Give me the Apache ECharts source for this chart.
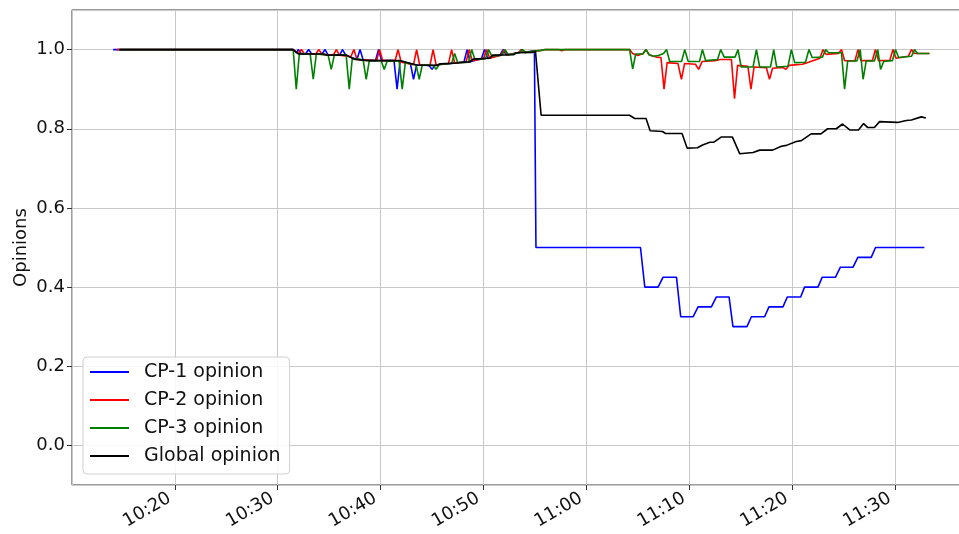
<!DOCTYPE html>
<html>
<head>
<meta charset="utf-8">
<script src="https://cdn.jsdelivr.net/npm/echarts@6/dist/echarts.min.js"></script>
<style>html,body{margin:0;padding:0;background:#fff;}#chart{width:959px;height:534px;}</style>
</head>
<body>
<div id="chart"></div>
<script>
// time = minutes after 10:00
const seriesNames = ['CP-1 opinion', 'CP-2 opinion', 'CP-3 opinion', 'Global opinion'];
const seriesColors = ['#0000ff', '#ff0000', '#008000', '#000000'];

const cp1Points = [
  [14.0,1.0],[31.5,1.0],[31.8,0.992],[32.0,1.0],[32.3,0.989],[32.7,0.989],[33.0,1.0],[33.3,0.989],
  [34.3,0.989],[34.6,1.0],[34.9,0.986],[36.0,0.986],[36.3,1.0],[36.6,0.986],[37.7,0.975],[38.0,1.0],
  [38.3,0.974],[39.5,0.972],[39.8,1.0],[40.1,0.972],[41.3,0.972],[41.6,0.90],[41.9,0.972],[42.9,0.964],
  [43.2,0.925],[43.5,0.961],[44.7,0.96],[45.0,0.95],[45.3,0.961],[48.1,0.968],[48.4,1.0],[48.7,0.969],
  [49.8,0.977],[50.1,1.0],[50.4,0.978],[51.6,0.986],[51.9,1.0],[52.2,0.987],[53.4,0.992],[53.7,1.0],
  [54.0,0.993],[54.95,0.997],[55.1,0.5],[65.26,0.5],[65.68,0.4],[66.97,0.4],[67.46,0.425],[68.76,0.425],
  [69.17,0.325],[70.37,0.325],[70.86,0.35],[72.15,0.35],[72.64,0.375],[73.87,0.375],[74.25,0.3],
  [75.61,0.3],[76.04,0.325],[77.33,0.325],[77.75,0.35],[79.11,0.35],[79.53,0.375],[80.83,0.375],
  [81.21,0.4],[82.51,0.4],[82.93,0.425],[84.22,0.425],[84.68,0.45],[85.91,0.45],[86.39,0.475],
  [87.69,0.475],[88.11,0.5],[92.86,0.5]
];

const cp2Points = [
  [14.35,1.0],[31.5,1.0],[32.0,0.99],[32.3,1.0],[32.6,0.989],[33.7,0.989],[34.0,1.0],[34.3,0.988],
  [35.4,0.986],[35.7,1.0],[36.0,0.986],[37.1,0.982],[37.4,1.0],[37.7,0.975],[39.6,0.972],[39.9,1.0],
  [40.2,0.972],[41.4,0.972],[41.7,1.0],[42.0,0.968],[43.2,0.962],[43.5,1.0],[43.8,0.961],[44.8,0.96],
  [45.1,1.0],[45.4,0.961],[46.6,0.965],[46.9,1.0],[47.2,0.966],[48.3,0.968],[48.6,1.0],[48.9,0.972],
  [50.0,0.977],[50.3,1.0],[50.6,0.978],[51.7,0.986],[52.0,1.0],[52.3,0.987],[53.4,0.992],[53.7,1.0],
  [54.0,0.993],[55.0,0.996],[55.6,0.998],[56.0,1.0],[57.3,1.0],[57.6,0.997],[57.9,1.0],[64.2,1.0],
  [64.5,0.99],[65.0,0.985],[65.5,0.99],[65.8,1.0],[66.1,0.987],[66.8,0.981],[67.25,0.98],[67.55,0.90],
  [67.85,0.967],[68.9,0.965],[69.24,0.925],[69.55,0.965],[70.6,0.963],[70.92,0.95],[71.25,0.97],
  [72.5,0.972],[73.0,0.975],[74.1,0.975],[74.4,0.876],[74.7,0.96],[75.7,0.958],[76.0,0.90],[76.3,0.956],
  [77.5,0.954],[77.8,0.925],[78.1,0.953],[79.1,0.955],[79.4,0.95],[79.7,0.96],[81.0,0.963],[81.6,0.968],
  [82.7,0.978],[83.0,1.0],[83.3,0.988],[84.5,0.99],[84.8,1.0],[85.1,0.972],[86.1,0.971],[86.4,1.0],
  [86.7,0.972],[87.8,0.972],[88.1,1.0],[88.4,0.972],[89.5,0.973],[89.8,1.0],[90.1,0.978],[91.3,0.983],
  [91.6,1.0],[91.9,0.99],[93.35,0.99]
];

const cp3Points = [
  [14.6,1.0],[31.5,1.0],[31.8,0.90],[32.1,0.99],[33.15,0.989],[33.45,0.925],[33.75,0.989],[34.9,0.986],
  [35.2,0.95],[35.5,0.986],[36.65,0.986],[36.95,0.90],[37.25,0.978],[38.3,0.974],[38.6,0.925],[38.9,0.972],
  [40.05,0.972],[40.35,0.95],[40.65,0.972],[41.8,0.971],[42.1,0.90],[42.4,0.967],[43.45,0.961],[43.75,0.925],
  [44.05,0.961],[45.1,0.96],[45.4,0.95],[45.7,0.963],[46.9,0.965],[47.2,0.99],[47.5,0.966],[48.55,0.968],
  [48.85,1.0],[49.15,0.976],[50.2,0.977],[50.5,1.0],[50.8,0.984],[51.8,0.986],[52.1,1.0],[52.4,0.987],
  [53.5,0.992],[53.8,1.0],[54.1,0.993],[55.0,0.996],[55.6,0.998],[56.0,1.0],[64.2,1.0],[64.5,0.951],
  [64.8,0.989],[65.5,0.989],[65.8,1.0],[66.1,0.987],[66.5,0.983],[67.0,0.985],[67.5,0.99],[67.8,1.0],
  [68.1,0.97],[69.25,0.97],[69.56,1.0],[69.9,0.97],[71.0,0.97],[71.28,1.0],[71.6,0.972],[72.75,0.975],
  [73.06,1.0],[73.4,0.981],[74.45,0.981],[74.74,1.0],[75.05,0.956],[76.2,0.956],[76.53,1.0],[76.85,0.956],
  [77.9,0.956],[78.21,1.0],[78.5,0.956],[79.6,0.958],[79.93,1.0],[80.25,0.967],[81.3,0.968],[81.64,1.0],
  [81.95,0.98],[82.95,0.981],[83.26,1.0],[83.55,0.992],[84.8,0.992],[85.1,0.90],[85.4,0.971],[86.3,0.971],
  [86.62,1.0],[86.9,0.925],[87.2,0.971],[88.0,0.971],[88.33,1.0],[88.6,0.95],[88.9,0.97],[89.75,0.972],
  [90.05,1.0],[90.35,0.98],[91.6,0.983],[91.9,1.0],[92.2,0.99],[93.35,0.99]
];

const globalPoints = [
  [14.6,1.0],[31.5,1.0],[32.0,0.989],[34.45,0.989],[34.8,0.986],[36.7,0.986],[37.4,0.976],[38.7,0.972],
  [41.9,0.972],[43.5,0.961],[45.45,0.96],[45.8,0.964],[47.4,0.966],[47.7,0.968],[48.7,0.969],[49.0,0.976],
  [50.6,0.978],[50.9,0.986],[52.9,0.987],[53.2,0.992],[54.8,0.993],[55.05,0.996],[55.6,0.834],[64.2,0.834],
  [64.7,0.826],[65.8,0.826],[66.2,0.795],[67.4,0.793],[67.7,0.788],[69.3,0.788],[69.8,0.751],[70.8,0.752],
  [71.3,0.759],[72.0,0.766],[72.4,0.766],[73.1,0.779],[74.2,0.779],[74.9,0.737],[76.2,0.74],[76.85,0.746],
  [78.1,0.746],[78.95,0.756],[79.45,0.758],[80.4,0.768],[80.9,0.77],[81.85,0.787],[82.8,0.787],[83.45,0.8],
  [84.3,0.8],[84.9,0.812],[85.6,0.797],[86.45,0.797],[86.95,0.813],[87.35,0.803],[88.0,0.803],[88.5,0.818],
  [90.25,0.816],[91.1,0.821],[91.6,0.822],[92.55,0.83],[93.0,0.827]
];

const yTickValues = [0.0, 0.2, 0.4, 0.6, 0.8, 1.0];
const xTickLabels = ['10:20', '10:30', '10:40', '10:50', '11:00', '11:10', '11:20', '11:30'];

function minutesToLabel(m) {
  const total = 600 + Math.round(m);
  const h = Math.floor(total / 60), mm = total % 60;
  return h + ':' + String(mm).padStart(2, '0');
}

const chart = echarts.init(document.getElementById('chart'), null, {renderer: 'canvas'});
const FONT = 'DejaVu Sans';
const allPoints = [cp1Points, cp2Points, cp3Points, globalPoints];

chart.setOption({
  animation: false,
  backgroundColor: '#ffffff',
  grid: {
    left: 72, right: -8, top: 10, bottom: 49,
    containLabel: false, outerBoundsMode: 'none',
    show: true, borderColor: '#3a3a3a', borderWidth: 1, backgroundColor: 'transparent'
  },
  xAxis: {
    type: 'value', min: 10, max: 97, interval: 10,
    axisLine: {show: false, onZero: false},
    axisTick: {show: true, length: 5, lineStyle: {color: '#333'}},
    splitLine: {show: true, lineStyle: {color: '#c8c8c8', width: 1}},
    axisLabel: {
      rotate: 30, margin: 9, fontFamily: FONT, fontSize: 18, color: '#111',
      padding: [0, 6, 0, 0],
      showMinLabel: false, showMaxLabel: false,
      formatter: function (v) {
        const lab = minutesToLabel(v);
        return xTickLabels.indexOf(lab) >= 0 ? lab : '';
      }
    }
  },
  yAxis: {
    type: 'value', min: -0.1, max: 1.1, splitNumber: 6, minInterval: 0.2, maxInterval: 0.2,
    name: 'Opinions', nameLocation: 'middle', nameRotate: 90, nameGap: 42, nameMoveOverlap: false,
    nameTextStyle: {fontFamily: FONT, fontSize: 18, color: '#111'},
    axisLine: {show: false, onZero: false},
    axisTick: {show: true, length: 5, lineStyle: {color: '#333'}},
    splitLine: {show: true, lineStyle: {color: '#c8c8c8', width: 1}},
    axisLabel: {
      margin: 7, fontFamily: FONT, fontSize: 18, color: '#111',
      showMinLabel: false, showMaxLabel: false,
      formatter: function (v) {
        const hit = yTickValues.find(t => Math.abs(t - v) < 1e-6);
        return hit === undefined ? '' : hit.toFixed(1);
      }
    }
  },
  legend: {
    left: 83, top: 357, orient: 'vertical',
    data: seriesNames,
    icon: 'rect', itemWidth: 39, itemHeight: 2, itemGap: 8,
    backgroundColor: 'rgba(255,255,255,0.85)',
    borderColor: '#d0d0d0', borderWidth: 1, borderRadius: 4,
    padding: [5, 9, 8, 7],
    textStyle: {fontFamily: FONT, fontSize: 19, color: '#111', lineHeight: 20, padding: [0, 0, 0, 10]}
  },
  series: seriesNames.map((name, i) => ({
    name: name, type: 'line', data: allPoints[i],
    showSymbol: false, symbol: 'none',
    color: seriesColors[i],
    lineStyle: {color: seriesColors[i], width: 1.6},
    z: 2 + i
  }))
});
</script>
</body>
</html>
